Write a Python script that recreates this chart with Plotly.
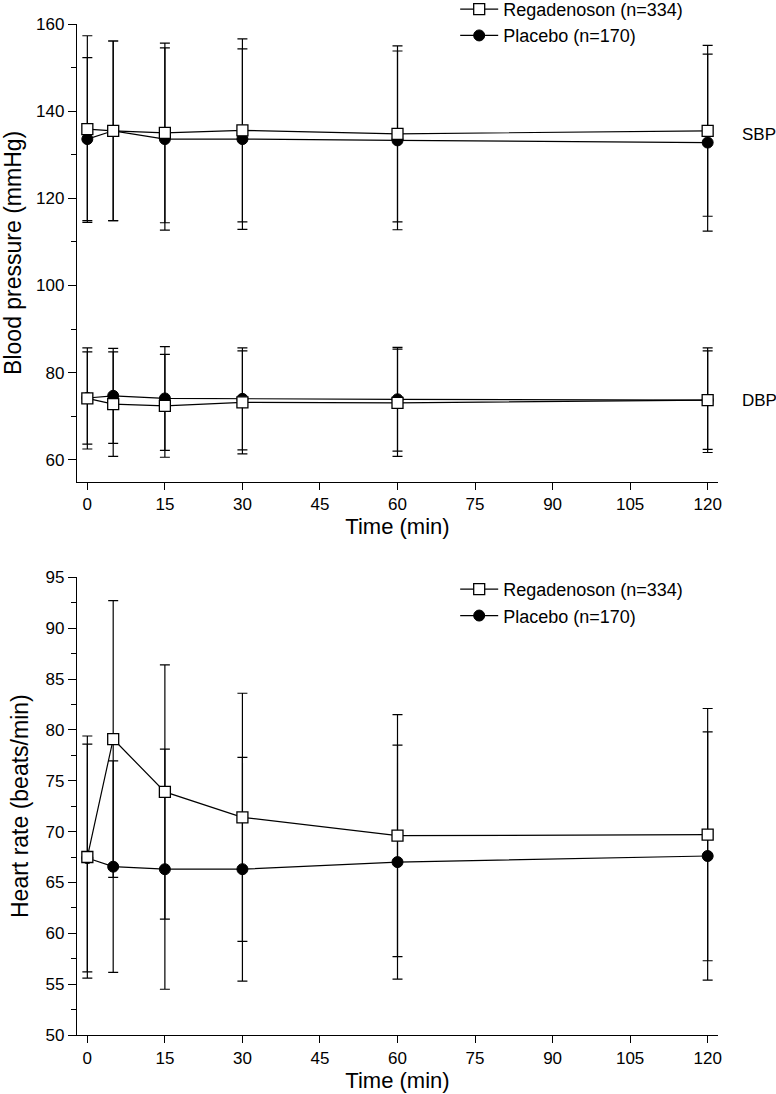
import plotly.graph_objects as go

# ---------------- data ----------------
time_min = [0, 5, 15, 30, 60, 120]

reg_sbp = [135.9, 135.5, 135.0, 135.6, 134.8, 135.5]
reg_sbp_sd = [21.4, 20.6, 20.6, 21.0, 20.2, 19.6]
pla_sbp = [133.6, 135.5, 133.6, 133.6, 133.3, 132.8]
pla_sbp_sd = [18.7, 20.6, 20.9, 20.7, 20.5, 20.3]

reg_dbp = [74.1, 72.8, 72.4, 73.2, 73.1, 73.7]
reg_dbp_sd = [11.6, 12.0, 11.8, 11.8, 12.3, 12.0]
pla_dbp = [74.2, 74.7, 74.1, 74.0, 73.9, 73.7]
pla_dbp_sd = [10.6, 10.9, 11.9, 11.7, 11.9, 11.3]

reg_hr = [67.5, 79.1, 73.9, 71.4, 69.6, 69.7]
reg_hr_sd = [11.9, 13.6, 12.5, 12.2, 11.9, 12.4]
pla_hr = [67.4, 66.55, 66.3, 66.3, 67.0, 67.6]
pla_hr_sd = [11.2, 10.4, 11.8, 11.0, 11.5, 12.2]

reg_name = "Regadenoson (n=334)"
pla_name = "Placebo (n=170)"
x_ticks = [0, 15, 30, 45, 60, 75, 90, 105, 120]

FONT = "Liberation Sans, Arial, sans-serif"
BLACK = "black"


def series(x, y, sd, name, kind, xa, ya, legend, show):
    if kind == "reg":
        marker = dict(symbol="square", size=11, color="white",
                      line=dict(color=BLACK, width=1.3))
    else:
        marker = dict(symbol="circle", size=11, color=BLACK,
                      line=dict(color=BLACK, width=1))
    return go.Scatter(
        x=x, y=y, name=name, mode="lines+markers",
        line=dict(color=BLACK, width=1.2),
        marker=marker,
        error_y=dict(type="data", array=sd, visible=True,
                     color=BLACK, thickness=1.2, width=5),
        xaxis=xa, yaxis=ya, legend=legend, showlegend=show,
        legendgroup=kind + legend,
    )


fig = go.Figure()
# top panel: placebo first (drawn under), regadenoson on top
fig.add_trace(series(time_min, pla_sbp, pla_sbp_sd, pla_name, "pla", "x", "y", "legend", True))
fig.add_trace(series(time_min, pla_dbp, pla_dbp_sd, pla_name, "pla", "x", "y", "legend", False))
fig.add_trace(series(time_min, reg_sbp, reg_sbp_sd, reg_name, "reg", "x", "y", "legend", True))
fig.add_trace(series(time_min, reg_dbp, reg_dbp_sd, reg_name, "reg", "x", "y", "legend", False))
# bottom panel
fig.add_trace(series(time_min, pla_hr, pla_hr_sd, pla_name, "pla", "x2", "y2", "legend2", True))
fig.add_trace(series(time_min, reg_hr, reg_hr_sd, reg_name, "reg", "x2", "y2", "legend2", True))

axis_common = dict(
    showline=True, linecolor=BLACK, linewidth=1.3,
    ticks="outside", tickcolor=BLACK, tickwidth=1.3,
    showgrid=False, zeroline=False,
    tickfont=dict(family=FONT, size=17, color=BLACK),
)

xaxis_cfg = dict(axis_common, range=[-2, 122], tickmode="array", tickvals=x_ticks,
                 ticklen=7,
                 title=dict(text="Time (min)", standoff=4,
                            font=dict(family=FONT, size=22, color=BLACK)))

legend_common = dict(
    xanchor="left", yanchor="top", traceorder="reversed",
    font=dict(family=FONT, size=18, color=BLACK),
    bgcolor="rgba(0,0,0,0)", borderwidth=0, tracegroupgap=0,
    itemwidth=38,
)

ytitle_font = dict(family=FONT, size=23, color=BLACK)

fig.update_layout(
    width=776, height=1094,
    margin=dict(l=77, r=58, t=24, b=59, autoexpand=False),
    paper_bgcolor="white", plot_bgcolor="white",
    font=dict(family=FONT, color=BLACK),
    xaxis=dict(xaxis_cfg, anchor="y", domain=[0, 1]),
    yaxis=dict(axis_common, anchor="x", domain=[0.5473, 1.0], range=[55, 160],
               tick0=0, dtick=20, ticklen=8,
               minor=dict(ticks="outside", dtick=10, tick0=0, ticklen=5,
                          tickcolor=BLACK, tickwidth=1.3),
               title=dict(text="Blood pressure (mmHg)", standoff=10, font=ytitle_font)),
    xaxis2=dict(xaxis_cfg, anchor="y2", domain=[0, 1]),
    yaxis2=dict(axis_common, anchor="x2", domain=[0.0, 0.4527], range=[50, 95],
                tick0=0, dtick=5, ticklen=8,
                minor=dict(ticks="outside", dtick=2.5, tick0=0, ticklen=5,
                           tickcolor=BLACK, tickwidth=1.3),
                title=dict(text="Heart rate (beats/min)", standoff=10, font=ytitle_font)),
    legend=dict(legend_common, x=0.59, y=1.0328),
    legend2=dict(legend_common, x=0.59, y=0.459),
    annotations=[
        dict(text="SBP", x=1.035, xref="paper", y=134.6, yref="y",
             xanchor="left", yanchor="middle", showarrow=False,
             font=dict(family=FONT, size=17, color=BLACK)),
        dict(text="DBP", x=1.035, xref="paper", y=73.7, yref="y",
             xanchor="left", yanchor="middle", showarrow=False,
             font=dict(family=FONT, size=17, color=BLACK)),
    ],
)

fig.write_html(
    "out.html",
    config={"displayModeBar": False},
    post_script="document.body.style.margin='0px';"
                "document.documentElement.style.overflow='hidden';"
                "document.body.style.overflow='hidden';",
)
